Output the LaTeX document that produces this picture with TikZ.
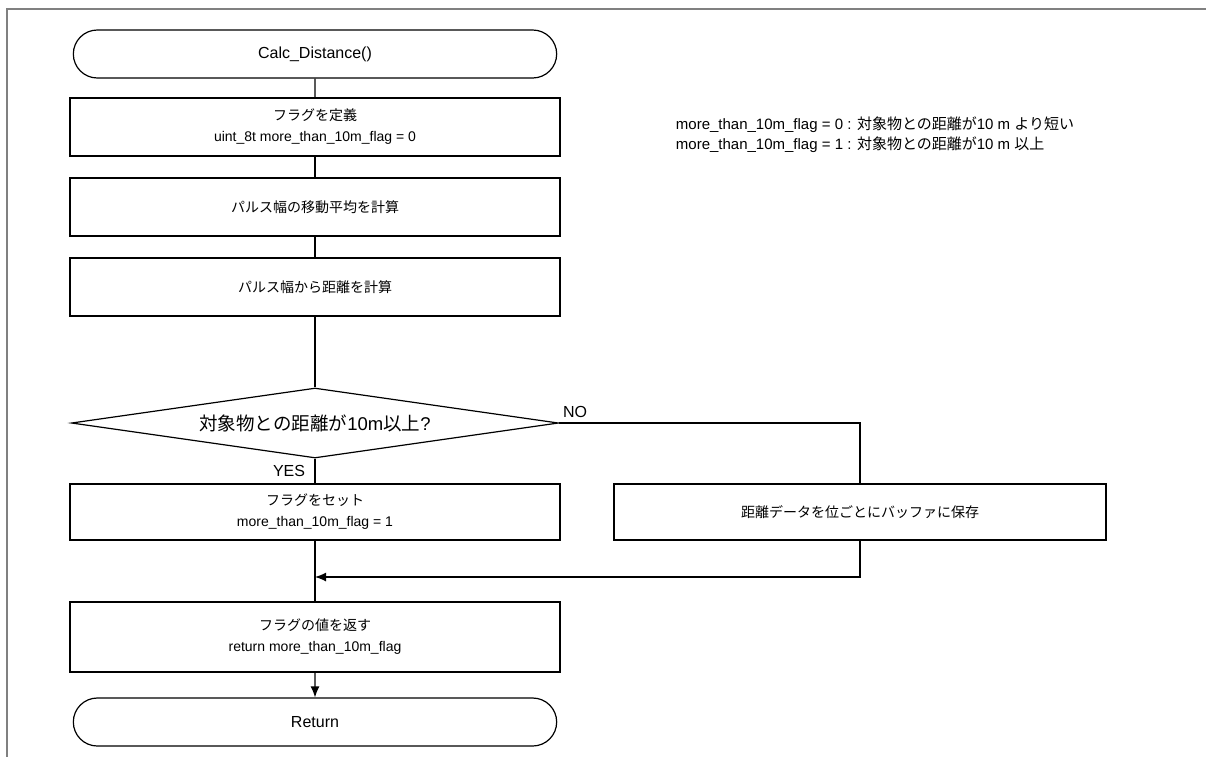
\documentclass[tikz,border=0pt]{standalone}
\usepackage{fontspec}
\setmainfont{Liberation Sans}
\newfontfamily\jp{Noto Sans CJK JP}
\usetikzlibrary{shapes,arrows.meta,positioning,calc}
\tikzset{
block/.style = {draw, fill=white, rectangle, minimum height=58pt, minimum width=490pt, align=center, font=\fontsize{14}{21}\selectfont},
term/.style  = {draw, fill=white, rounded rectangle, minimum height=48pt, minimum width=490pt, font=\fontsize{16}{20}\selectfont},
decision/.style = {draw, fill=white, diamond, aspect=7, minimum width=487pt, minimum height=70pt, inner sep=0pt, font=\fontsize{18.5}{20}\selectfont},
tmp/.style   = {coordinate},
lbl/.style   = {font=\fontsize{16}{18}\selectfont},
note/.style  = {anchor=west, align=left, font=\fontsize{15}{20}\selectfont},
frame/.style = {draw=black!50, line width=2pt}
}
\begin{document}
\begin{tikzpicture}[x=1pt, y=-1pt, line width=1.2pt, >={Latex[length=11pt,width=9pt]}]
  \useasboundingbox (0,0) rectangle (1206,756);
  \draw [frame] (7,760) -- (7,9) -- (1210,9);

  \node [term]                              (start)   at (315,54)  {Calc\_Distance()};
  \node [block]                             (def)     at (315,127) {{\jp フラグを定義}\\uint\_8t more\_than\_10m\_flag = 0};
  \node [block]                             (avg)     at (315,207) {\jp パルス幅の移動平均を計算};
  \node [block]                             (dist)    at (315,287) {\jp パルス幅から距離を計算};
  \node [decision]                          (check)   at (315,423) {{\jp 対象物との距離が}10m{\jp 以上}?};
  \node [block, minimum height=56pt]        (flagset) at (315,512) {{\jp フラグをセット}\\more\_than\_10m\_flag = 1};
  \node [block, minimum height=56pt, minimum width=492pt] (store) at (860,512) {\jp 距離データを位ごとにバッファに保存};
  \node [tmp]                               (merge)   at (315,577) {};
  \node [block, minimum height=70pt]        (ret)     at (315,637) {{\jp フラグの値を返す}\\return more\_than\_10m\_flag};
  \node [term]                              (end)     at (315,722) {Return};

  \node [note] (flagnote) at (672,135) {more\_than\_10m\_flag = 0 : {\jp 対象物との距離が}10 m {\jp より短い}\\
                                          more\_than\_10m\_flag = 1 : {\jp 対象物との距離が}10 m {\jp 以上}};

  \draw (start) -- (def);
  \draw (def) -- (avg);
  \draw (avg) -- (dist);
  \draw (dist) -- (check);
  \draw (check) -- node [lbl, left, xshift=-6pt] {YES} (flagset);
  \draw (check.east) -- node [lbl, pos=0, anchor=south west, yshift=1pt] {NO} (check.east -| store) -- (store);
  \draw (flagset) -- (ret);
  \draw [->] (store) |- (merge);
  \draw [->] (ret) -- (end);
\end{tikzpicture}
\end{document}
